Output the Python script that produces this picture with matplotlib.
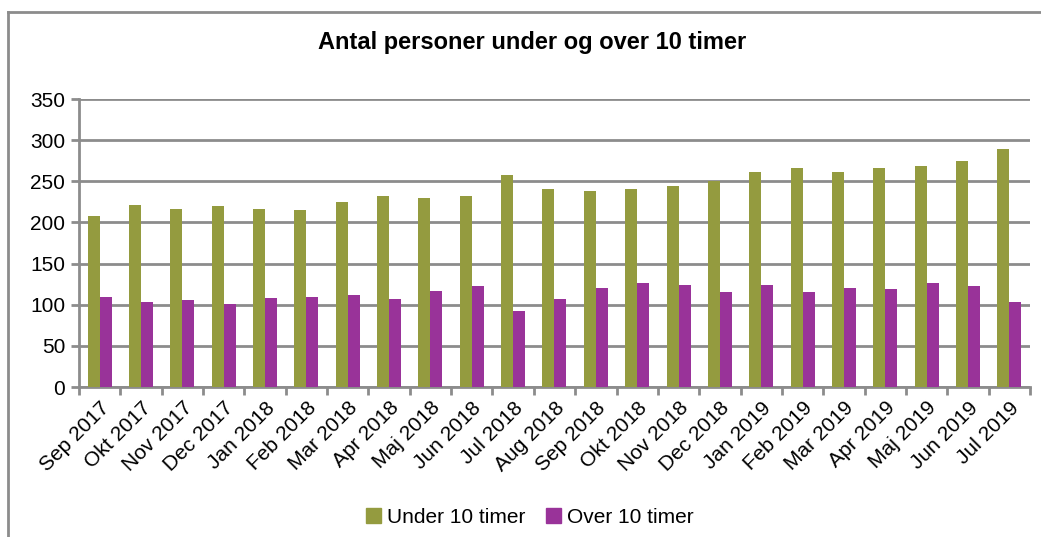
import numpy as np
import matplotlib.pyplot as plt
from matplotlib.lines import Line2D
from matplotlib.patches import Patch

plt.rcParams['font.family'] = ['Liberation Sans', 'DejaVu Sans']

months = ["Sep 2017", "Okt 2017", "Nov 2017", "Dec 2017", "Jan 2018", "Feb 2018",
          "Mar 2018", "Apr 2018", "Maj 2018", "Jun 2018", "Jul 2018", "Aug 2018",
          "Sep 2018", "Okt 2018", "Nov 2018", "Dec 2018", "Jan 2019", "Feb 2019",
          "Mar 2019", "Apr 2019", "Maj 2019", "Jun 2019", "Jul 2019"]
under_10 = [208, 221, 216, 220, 216, 215, 225, 232, 230, 232, 258, 241,
            238, 241, 244, 250, 261, 266, 261, 266, 269, 275, 289]
over_10 = [109, 103, 106, 101, 108, 110, 112, 107, 117, 123, 92, 107,
           120, 126, 124, 115, 124, 115, 120, 119, 126, 123, 103]

green = '#949B3F'
purple = '#993399'
grid_col = '#8C8C8C'

fig = plt.figure(figsize=(10.41, 5.37), dpi=100)
ax = fig.add_axes([0.0759, 0.2793, 0.9135, 0.5363])

x = np.arange(len(months))
w = 0.29
ax.bar(x - w / 2, under_10, width=w, color=green, label='Under 10 timer', zorder=3)
ax.bar(x + w / 2, over_10, width=w, color=purple, label='Over 10 timer', zorder=3)

ax.set_xlim(-0.5, len(months) - 0.5)
ax.set_ylim(0, 350)
ax.set_yticks(range(0, 351, 50))
ax.yaxis.grid(True, color=grid_col, linewidth=2, zorder=0)
ax.set_axisbelow(True)

# category boundary ticks like excel
ax.set_xticks(np.arange(-0.5, len(months), 1.0), minor=True)
ax.set_xticks(x)
ax.set_xticklabels(months, rotation=45, ha='right', rotation_mode='anchor', fontsize=15)
ax.tick_params(axis='x', which='major', length=0, pad=8)
ax.tick_params(axis='x', which='minor', length=6, width=2, color=grid_col)
ax.tick_params(axis='y', length=6, width=2, color=grid_col, labelsize=15, pad=4)

for s in ['top', 'right']:
    ax.spines[s].set_visible(False)
ax.spines['left'].set_color(grid_col)
ax.spines['left'].set_linewidth(2)
ax.spines['bottom'].set_color(grid_col)
ax.spines['bottom'].set_linewidth(2)

fig.text(0.511, 0.921, 'Antal personer under og over 10 timer', ha='center', va='center',
         fontsize=17, fontweight='bold')

handles = [Patch(color=green), Patch(color=purple)]
fig.legend(handles, ['Under 10 timer', 'Over 10 timer'], loc='center',
           bbox_to_anchor=(0.509, 0.037), ncol=2, frameon=False, fontsize=15,
           handlelength=0.7, handleheight=0.7, handletextpad=0.3, columnspacing=1.0)

# outer chart border
fig.add_artist(Line2D([8 / 1041, 1], [1 - 12 / 537, 1 - 12 / 537], color='#8C8C8C', linewidth=2))
fig.add_artist(Line2D([8 / 1041, 8 / 1041], [0, 1 - 12 / 537], color='#8C8C8C', linewidth=2))

fig.savefig('out.png', dpi=100)
